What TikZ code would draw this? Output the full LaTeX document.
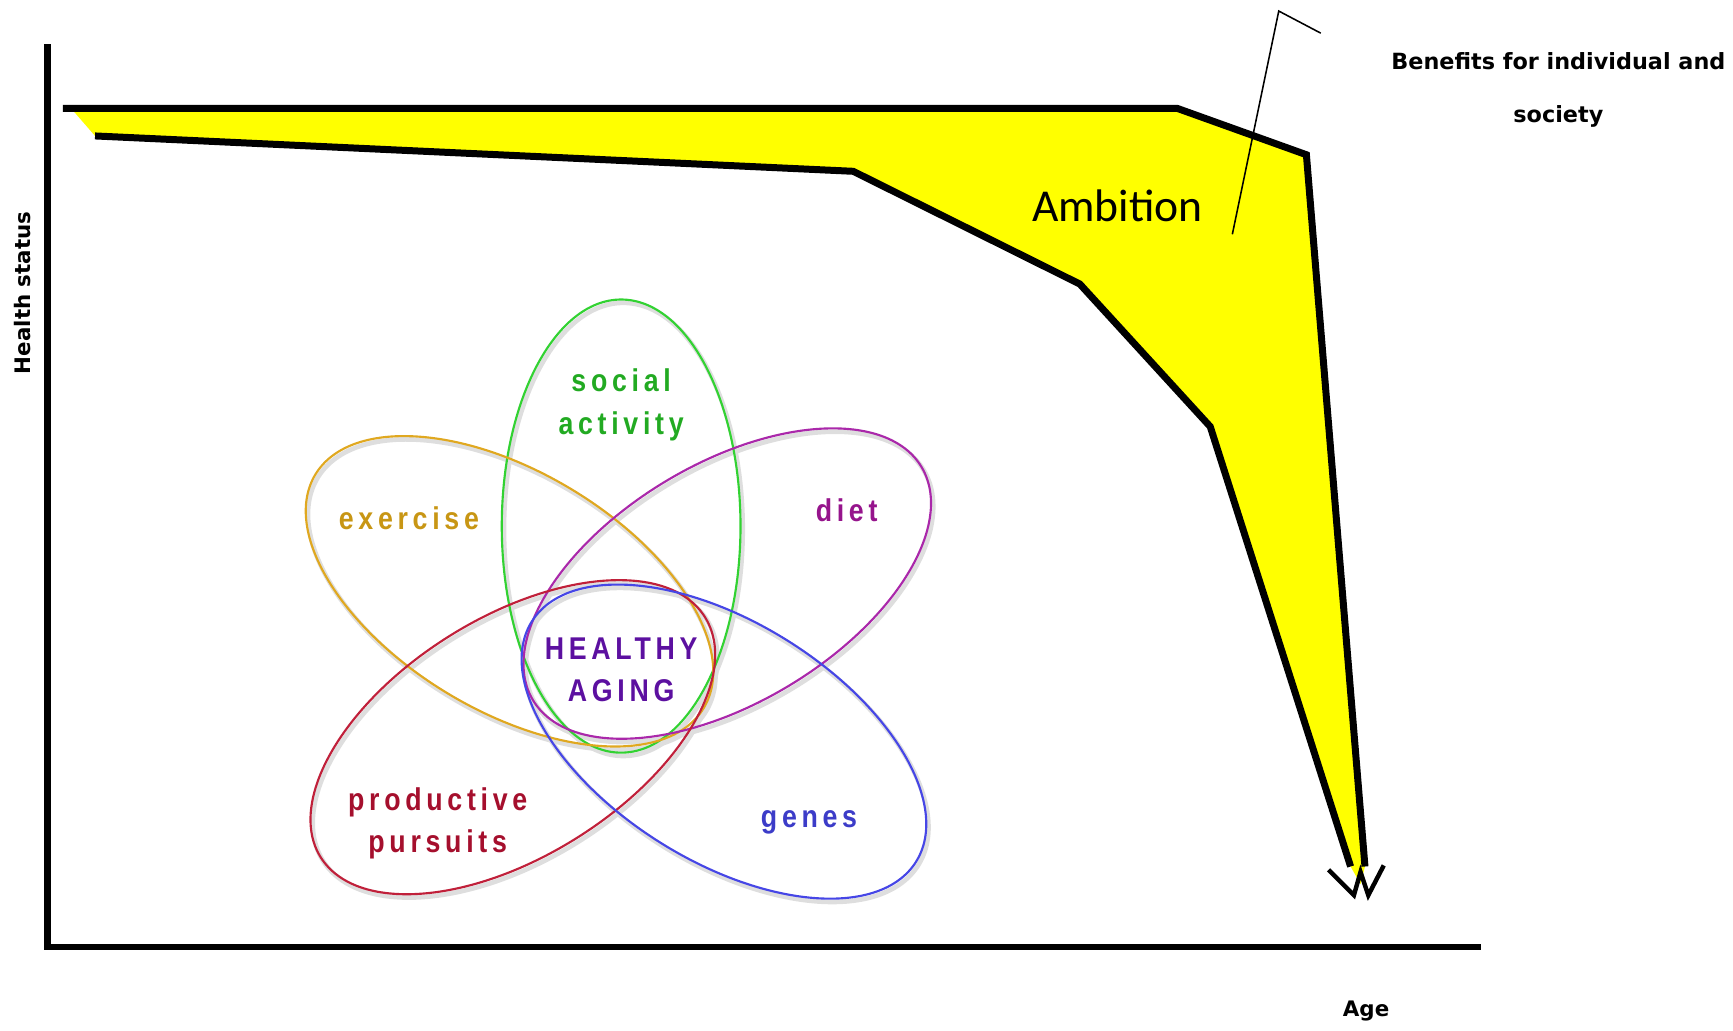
\documentclass[tikz,border=0pt]{standalone}
\usepackage{fontspec}
\setmainfont{DejaVu Sans}
\newfontfamily\ambitionfont{Carlito}
\newfontfamily\petalfont{Liberation Sans Bold}[FakeStretch=0.85,LetterSpace=15]

\definecolor{bandyellow}{RGB}{255,255,0}
\definecolor{exercisecol}{RGB}{224,168,32}
\definecolor{exercisetxt}{RGB}{200,150,20}
\definecolor{socialcol}{RGB}{50,210,50}
\definecolor{socialtxt}{RGB}{34,170,34}
\definecolor{dietcol}{RGB}{170,40,170}
\definecolor{diettxt}{RGB}{150,20,140}
\definecolor{productivecol}{RGB}{192,32,58}
\definecolor{productivetxt}{RGB}{165,15,45}
\definecolor{genescol}{RGB}{70,70,230}
\definecolor{genestxt}{RGB}{60,60,200}
\definecolor{agingtxt}{RGB}{92,16,160}

\tikzset{
    axisline/.style={line width=3.4pt},
    bandline/.style={line width=3.6pt},
    petal/.style={line width=1.1pt},
    petalshadow/.style={line width=2.4pt, black!13},
    petaltext/.style={font=\petalfont\fontsize{16.2}{22}\selectfont, align=center},
    axislabel/.style={font=\bfseries\fontsize{11}{13}\selectfont},
}

\begin{document}
\begin{tikzpicture}[x=0.02cm, y=0.02cm]

    \useasboundingbox (0,0) rectangle (1568,-932);

    \fill[bandyellow] (57,-98) -- (1065,-98) -- (1182,-140) -- (1235,-784) -- (1231,-800)
        -- (1222,-784) -- (1095,-386) -- (977,-257) -- (772,-155) -- (86,-123) -- (66,-100) -- cycle;
    \draw[bandline] (57,-98) -- (1065,-98) -- (1182,-140) -- (1235,-784);
    \draw[bandline] (86,-123) -- (772,-155) -- (977,-257) -- (1095,-386) -- (1222,-784);
    \draw[line width=2.3pt] (1202,-787) -- (1225,-810) -- (1231,-789) -- (1238,-810) -- (1252,-783);

    \draw[axisline] (43,-40) -- (43,-857) -- (1340,-857);

    \coordinate (pointer) at (1115,-212);
    \coordinate (bend) at (1157,-10);
    \coordinate (flag) at (1195,-30);
    \draw[line width=0.8pt] (pointer) -- (bend) -- (flag);

    \node[font=\ambitionfont\fontsize{23.5}{26}\selectfont] (ambition) at (1011,-186) {Ambition};
    \node[font=\bfseries\fontsize{11.5}{27.2}\selectfont, align=center] (benefits) at (1410,-81)
        {Benefits for individual and\\society};
    \node[axislabel, rotate=90, font=\bfseries\fontsize{11}{13}\selectfont] (health) at (20,-265) {Health status};
    \node[axislabel] (age) at (1236,-915) {Age};

    \foreach \cx/\cy/\ang in {562/-476/90, 461/-535/-31, 658/-528/31, 464/-667/32, 655/-671/-32}
        \draw[petalshadow] (\cx+2,\cy-3) ellipse[x radius=205, y radius=108, rotate=\ang];

    \draw[petal, socialcol] (562,-476) ellipse[x radius=205, y radius=108, rotate=90];
    \draw[petal, exercisecol] (461,-535) ellipse[x radius=205, y radius=108, rotate=-31];
    \draw[petal, dietcol] (658,-528) ellipse[x radius=205, y radius=108, rotate=31];
    \draw[petal, productivecol] (464,-667) ellipse[x radius=205, y radius=108, rotate=32];
    \draw[petal, genescol] (655,-671) ellipse[x radius=205, y radius=108, rotate=-32];

    \node[petaltext, text=socialtxt] (social) at (562,-366) {social\\activity};
    \node[petaltext, text=exercisetxt] (exercise) at (370,-469) {exercise};
    \node[petaltext, text=diettxt] (diet) at (766,-462) {diet};
    \node[petaltext, text=agingtxt] (aging) at (562,-606) {HEALTHY\\AGING};
    \node[petaltext, text=productivetxt] (productive) at (396,-745) {productive\\pursuits};
    \node[petaltext, text=genestxt] (genes) at (732,-744) {genes};

\end{tikzpicture}
\end{document}
